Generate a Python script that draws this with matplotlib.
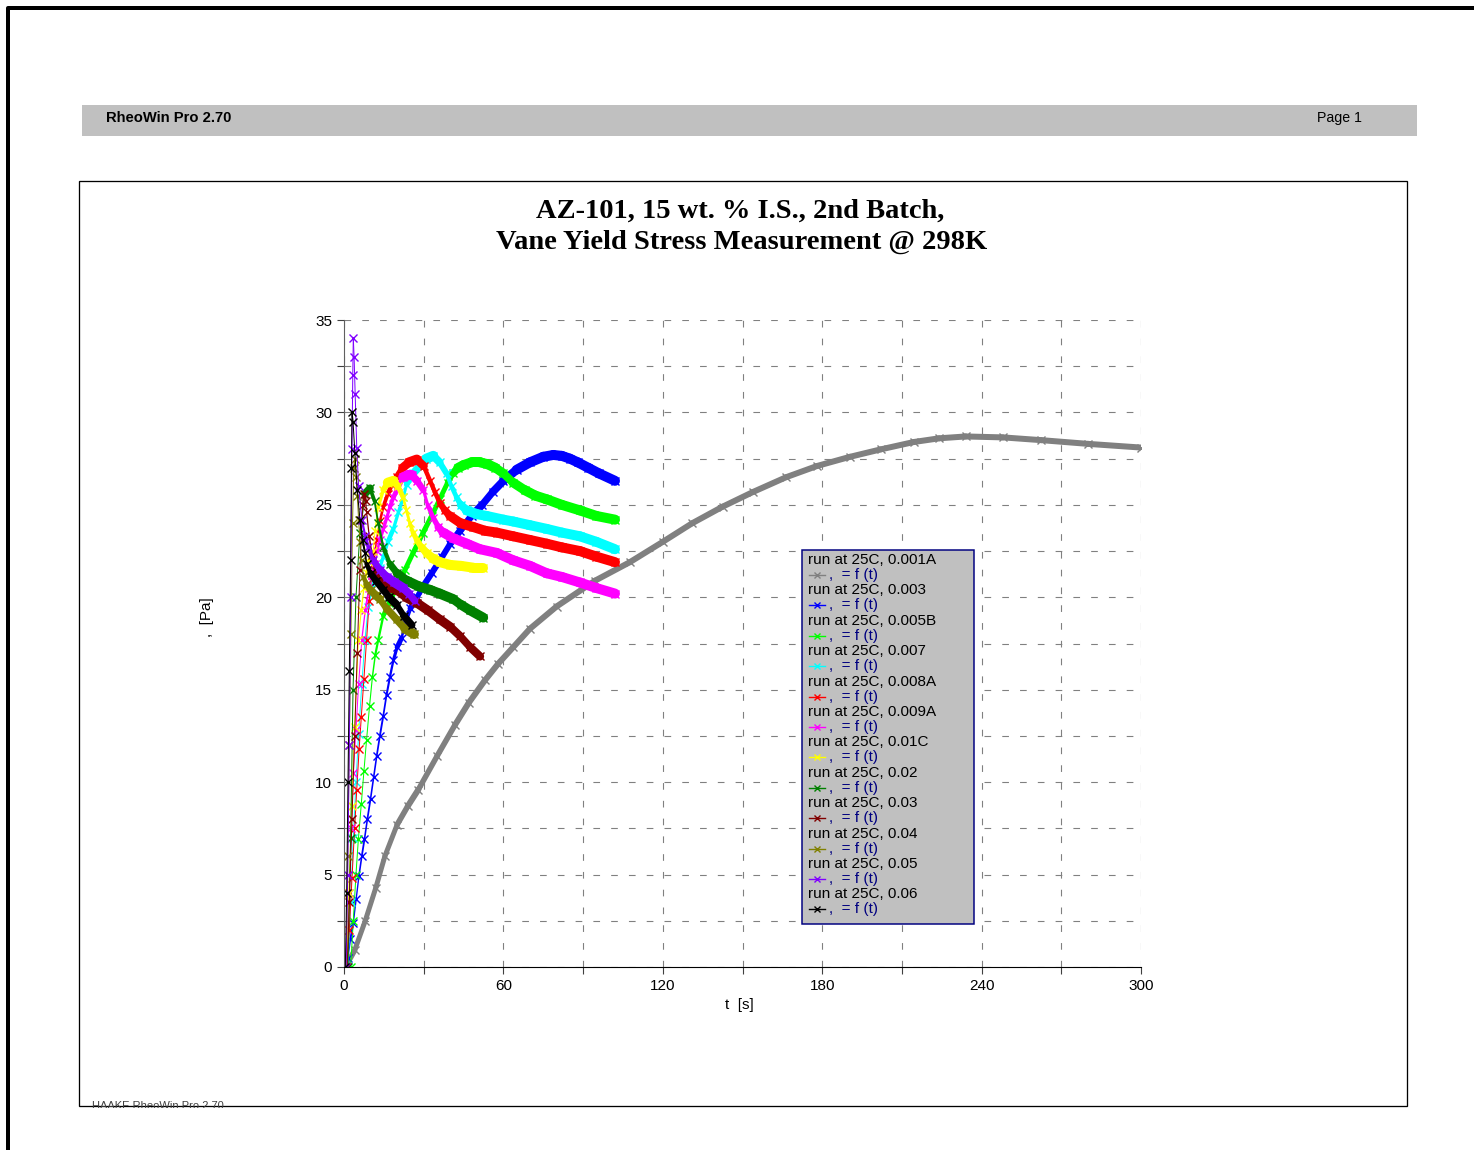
import numpy as np
import matplotlib
matplotlib.use("Agg")
from matplotlib import pyplot as plt
from matplotlib.collections import LineCollection
from matplotlib.patches import Rectangle
from matplotlib.lines import Line2D

# --- data (t in s, tau in Pa) ---
t_001A = [0.5, 4, 8, 12, 15.4, 20, 24, 28, 35, 41.8, 47, 53, 58, 63.7, 70, 80, 94.5, 107.6, 120, 131,
          142.5, 154, 166.5, 178, 190.5, 202, 214.5, 224, 234, 248, 262.5, 280, 300]
tau_001A = [0, 0.9, 2.5, 4.3, 6.0, 7.7, 8.7, 9.6, 11.4, 13.1, 14.3, 15.5, 16.4, 17.3, 18.3, 19.5, 20.9, 21.9,
            23.0, 24.0, 24.9, 25.7, 26.5, 27.1, 27.6, 28.0, 28.4, 28.6, 28.7, 28.65, 28.5, 28.3, 28.1]

t_003 = [0.5, 1.4, 2.4, 3.5, 4.6, 5.6, 6.7, 7.7, 8.8, 10, 11.2, 12.3, 13.5, 14.8, 16, 17.3, 18.6, 20, 21.7,
         23, 25, 27.5, 29.8, 33, 37, 40, 43.7, 48, 52, 56, 60, 65, 70, 75, 78.8, 82, 85, 88, 92, 96, 102]
tau_003 = [0, 0.5, 1.5, 2.4, 3.7, 4.9, 6.0, 6.9, 8.0, 9.1, 10.3, 11.4, 12.5, 13.6, 14.7, 15.7, 16.6, 17.3,
           17.8, 18.6, 19.4, 20.0, 20.6, 21.3, 22.2, 22.9, 23.6, 24.4, 25.0, 25.7, 26.3, 26.9, 27.3, 27.6,
           27.7, 27.65, 27.5, 27.3, 27.0, 26.7, 26.3]

t_005B = [2.5, 3.5, 4.5, 5.4, 6.5, 7.5, 8.5, 9.6, 10.7, 11.8, 12.9, 14.8, 17, 20, 23, 26, 29.8, 33, 36, 39,
          41, 43, 45, 48, 51.2, 54, 57, 60, 63.7, 68, 72, 76.3, 82, 88.8, 95, 102]
tau_005B = [0, 2.5, 5, 6.9, 8.8, 10.6, 12.3, 14.1, 15.7, 16.9, 17.7, 19.0, 19.7, 20.6, 21.5, 22.4, 23.5,
            24.4, 25.3, 26.2, 26.7, 27.0, 27.15, 27.3, 27.3, 27.2, 27.0, 26.7, 26.2, 25.8, 25.5, 25.3,
            25.0, 24.7, 24.4, 24.2]

t_007 = [1.5, 2.5, 3.5, 4.5, 5.5, 6.7, 7.9, 9.2, 10.5, 12, 13.5, 14.8, 16.5, 18.6, 20.5, 22.3, 23.6, 26,
         28.6, 31, 33.6, 36, 38.6, 40.5, 42.4, 44, 46.2, 50, 53.7, 60, 63.7, 70, 76.3, 82, 88.8, 95, 102]
tau_007 = [0, 3.5, 7, 10, 12.6, 15.3, 17.7, 19.5, 20.5, 21.2, 21.6, 22.2, 23.0, 23.7, 24.6, 25.4, 26.1,
           26.7, 27.1, 27.5, 27.65, 27.3, 26.7, 26.0, 25.4, 25.0, 24.7, 24.5, 24.4, 24.2, 24.1, 23.9, 23.7,
           23.5, 23.3, 23.0, 22.6]

t_008A = [1.0, 2, 3, 4, 4.8, 5.7, 6.5, 7.5, 8.5, 9.5, 10.4, 11.0, 12.3, 13.5, 14.8, 16.5, 18, 19.8, 22,
          24.5, 27.4, 30, 32.4, 34.2, 36.1, 38, 39.9, 44, 48.7, 53, 57.5, 63.7, 70, 76.3, 82, 88.8, 95, 102]
tau_008A = [0, 2, 4.8, 7.5, 9.6, 11.8, 13.5, 15.6, 17.7, 19.8, 21.2, 21.8, 23.1, 24.1, 24.9, 25.6, 26.1,
            26.5, 27.0, 27.3, 27.45, 27.1, 26.3, 25.7, 25.1, 24.7, 24.4, 24.0, 23.8, 23.6, 23.5, 23.3,
            23.1, 22.9, 22.7, 22.5, 22.2, 21.9]

t_009A = [1, 2, 2.8, 3.5, 4.5, 5.5, 6.7, 8, 9.5, 10.5, 11.7, 12.5, 13.5, 14.8, 16.1, 17.3, 18.6, 20.5,
          22.3, 24, 25.5, 27.5, 29.9, 31.5, 33.6, 35.5, 37.4, 41, 46.2, 51.2, 57.5, 63.7, 70, 76.3, 82,
          88.8, 95, 102]
tau_009A = [0, 4, 7.5, 10.5, 12.8, 15.3, 17.7, 19.3, 20.5, 21.2, 21.8, 22.5, 23.1, 23.7, 24.3, 24.9, 25.4,
            26.0, 26.5, 26.6, 26.6, 26.3, 25.8, 25.0, 24.3, 23.8, 23.5, 23.2, 22.9, 22.6, 22.4, 22.0,
            21.7, 21.3, 21.1, 20.8, 20.5, 20.2]

t_01C = [1, 1.8, 2.9, 4, 5.4, 6.5, 7.5, 8.5, 9.5, 10.3, 11.0, 11.7, 12.9, 14.8, 16.5, 18.6, 20.3, 22.3,
         23.5, 24.8, 26, 27.4, 29.2, 31.1, 33.5, 36.1, 40, 44, 48.7, 52.4]
tau_01C = [0, 4, 8.7, 13, 17.7, 19.3, 20.5, 21.3, 21.9, 22.2, 22.5, 23.6, 24.9, 25.8, 26.2, 26.3, 26.0,
           25.4, 24.7, 24.0, 23.5, 23.1, 22.7, 22.4, 22.1, 21.9, 21.75, 21.7, 21.6, 21.6]

t_02 = [1.5, 2.5, 3.4, 4.5, 6, 7.9, 9.8, 11.5, 12.9, 14.8, 17.3, 20, 23.6, 28, 32.4, 36, 41.1, 44, 47.4, 52.4]
tau_02 = [0, 7, 15, 20, 23.5, 25.6, 25.9, 25.2, 24.0, 22.7, 21.8, 21.3, 20.9, 20.6, 20.4, 20.2, 19.9,
          19.6, 19.3, 18.9]

t_03 = [1.2, 2, 3, 4, 5, 6, 7, 7.5, 8.2, 8.5, 9.5, 10.5, 12, 13.5, 16, 19.8, 23.5, 27.4, 31.5, 36.1, 40,
        43.7, 47.5, 51.2]
tau_03 = [0, 3.5, 8, 12.5, 17, 21.5, 25.0, 25.6, 25.2, 24.6, 23.3, 22.3, 21.4, 20.9, 20.6, 20.4, 20.0,
          19.7, 19.3, 18.8, 18.4, 17.9, 17.3, 16.8]

t_04 = [0.8, 1.4, 2, 2.6, 3.2, 3.7, 4.1, 4.6, 5, 5.5, 6, 6.6, 7.3, 8.5, 10, 12, 13.5, 16, 19.8, 23, 26.4]
tau_04 = [0, 6, 12, 18, 24, 27, 27.5, 26.5, 25.5, 24.2, 23, 22, 21.1, 20.7, 20.4, 20.1, 19.9, 19.4, 18.8,
          18.3, 18.0]

t_05 = [0.8, 1.4, 2.0, 2.5, 3.0, 3.3, 3.5, 3.8, 4.2, 4.8, 5.5, 6.7, 8, 9.2, 11.0, 13.5, 16.1, 19, 22.3,
        24.5, 26.7]
tau_05 = [0, 5, 12, 20, 28, 32, 34, 33, 31, 28.1, 26, 24.2, 23.3, 22.7, 22.0, 21.5, 21.1, 20.8, 20.5,
          20.2, 19.8]

t_06 = [0.5, 1, 1.5, 2, 2.5, 2.8, 3.0, 3.4, 4.1, 5, 6, 7, 7.9, 8.5, 10, 12, 14.8, 17, 19.8, 22.5, 25.5]
tau_06 = [0, 4, 10, 16, 22, 27, 30, 29.5, 27.8, 25.8, 24.2, 23.1, 22.4, 21.8, 21.3, 20.9, 20.4, 20.0,
          19.6, 19.0, 18.5]

labels = ["run at 25C, 0.001A", "run at 25C, 0.003", "run at 25C, 0.005B", "run at 25C, 0.007",
          "run at 25C, 0.008A", "run at 25C, 0.009A", "run at 25C, 0.01C", "run at 25C, 0.02",
          "run at 25C, 0.03", "run at 25C, 0.04", "run at 25C, 0.05", "run at 25C, 0.06"]
colors = ["#808080", "#0000ff", "#00ff00", "#00ffff", "#ff0000", "#ff00ff",
          "#ffff00", "#008000", "#800000", "#808000", "#8000ff", "#000000"]
series = [(t_001A, tau_001A), (t_003, tau_003), (t_005B, tau_005B), (t_007, tau_007),
          (t_008A, tau_008A), (t_009A, tau_009A), (t_01C, tau_01C), (t_02, tau_02),
          (t_03, tau_03), (t_04, tau_04), (t_05, tau_05), (t_06, tau_06)]
# width range (px) of the dense marker band for each run
band_min = [5, 1, 1, 1, 1, 1, 1, 1, 1, 1, 1, 1]
band_max = [6, 10, 10, 10, 10, 10, 10, 10, 10, 10, 10, 10]

W, H, DPI = 1474, 1150, 100
fig = plt.figure(figsize=(W / DPI, H / DPI), dpi=DPI)
px = 72.0 / DPI  # points per pixel

# page layer in pixel coordinates
page = fig.add_axes([0, 0, 1, 1], zorder=-1)
page.set_xlim(0, W)
page.set_ylim(H, 0)
page.axis("off")

page.plot([8, 8, W], [H, 8, 8], color="black", lw=4 * px, solid_capstyle="projecting")
page.add_patch(Rectangle((82, 105), 1335, 31, color="#c0c0c0", lw=0))
page.text(106, 118, "RheoWin Pro 2.70", family="Liberation Sans", weight="bold", fontsize=10.6, va="center")
page.text(1317, 118, "Page 1", family="Liberation Sans", fontsize=10.2, va="center")
page.add_patch(Rectangle((79, 181), 1328, 925, fill=False, ec="black", lw=1.3 * px))
page.text(92, 1101, "HAAKE RheoWin Pro 2.70", family="Liberation Sans", fontsize=8,
          color="#404040", va="top")
page.add_patch(Rectangle((82, 1107.5), 300, 20, color="white", lw=0, zorder=5))

page.text(740, 211, "AZ-101, 15 wt. % I.S., 2nd Batch,", family="Liberation Serif", weight="bold",
          fontsize=20.5, ha="center", va="center")
page.text(742, 242, "Vane Yield Stress Measurement @ 298K", family="Liberation Serif", weight="bold",
          fontsize=20.5, ha="center", va="center")
page.text(207, 617, ",  [Pa]", family="Liberation Sans", fontsize=11, rotation=90,
          ha="center", va="center")
page.text(739, 1005, "t  [s]", family="Liberation Sans", fontsize=11, ha="center", va="center")

# chart axes
x0, x1, y0, y1 = 344, 1141, 320, 967
ax = fig.add_axes([x0 / W, 1 - y1 / H, (x1 - x0) / W, (y1 - y0) / H], zorder=1)
ax.patch.set_alpha(0)
ax.set_xlim(0, 300)
ax.set_ylim(0, 35)
ax.set_xticks(np.arange(0, 301, 60))
ax.set_xticks(np.arange(30, 300, 60), minor=True)
ax.set_yticks(np.arange(0, 36, 5))
ax.set_yticks(np.arange(2.5, 35, 5), minor=True)
for s in ["top", "right"]:
    ax.spines[s].set_visible(False)
ax.spines["left"].set_color("#606060")
ax.spines["bottom"].set_color("black")
ax.tick_params(which="both", direction="out", length=5, width=0.8, colors="#404040",
               labelsize=11, labelcolor="black")
for lab in ax.get_xticklabels() + ax.get_yticklabels():
    lab.set_family("Liberation Sans")
ax.grid(True, which="both", color="#808080", lw=0.8, ls=(0, (6, 10)))

xs = (x1 - x0) / 300.0
ys = (y1 - y0) / 35.0
for (t, tau), c, wmin, wmax in zip(series, colors, band_min, band_max):
    t = np.asarray(t, float)
    tau = np.asarray(tau, float)
    seg = np.stack([np.column_stack([t[:-1], tau[:-1]]), np.column_stack([t[1:], tau[1:]])], axis=1)
    dt = np.diff(t)
    speed = np.hypot(xs * dt, ys * np.diff(tau)) / dt  # px per second
    lw = np.clip(30.0 / speed, wmin, wmax) * px
    ax.add_collection(LineCollection(seg, colors=c, linewidths=lw, capstyle="round", joinstyle="round"))
    ax.plot(t, tau, ls="none", marker="x", ms=6, mew=1, color=c)

# legend box
page_tr = page.transData
lx, ly, lw_, lh = 802, 550, 172, 374
ax.add_patch(Rectangle((lx, ly), lw_, lh, transform=page_tr, fc="#c0c0c0", ec="#000080",
                       lw=1.5 * px, clip_on=False, zorder=5))
for i, (lab, c) in enumerate(zip(labels, colors)):
    yy = 560 + i * 30.4
    ax.text(808, yy, lab, transform=page_tr, family="Liberation Sans", fontsize=11,
            va="center", zorder=6)
    ax.add_line(Line2D([809, 825], [yy + 15, yy + 15], transform=page_tr, color=c, lw=1,
                       clip_on=False, zorder=6))
    ax.add_line(Line2D([817], [yy + 15], transform=page_tr, color=c, ls="none", marker="x",
                       ms=5, mew=1, clip_on=False, zorder=6))
    ax.text(829, yy + 15, ",  = f (t)", transform=page_tr, family="Liberation Sans",
            fontsize=11, color="#000080", va="center", zorder=6)

fig.savefig("out.png", dpi=DPI)
